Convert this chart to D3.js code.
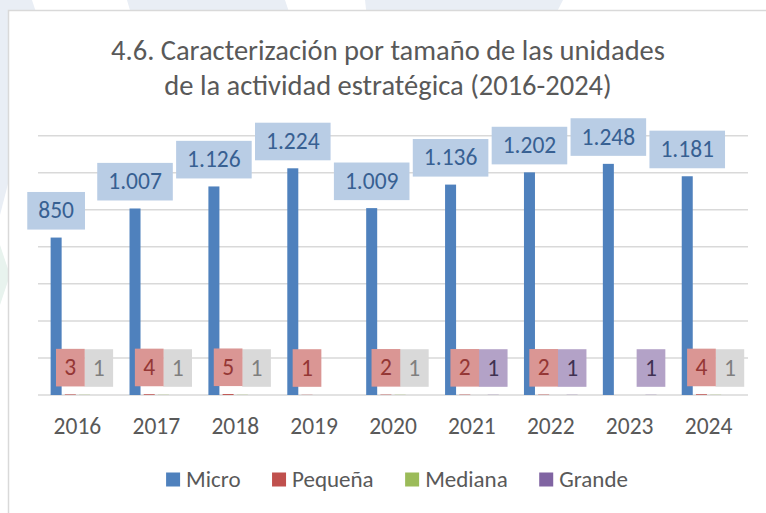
<!DOCTYPE html>
<html>
<head>
<meta charset="utf-8">
<script src="https://cdn.jsdelivr.net/npm/d3@7"></script>
<style>
  body { margin: 0; background: #fff; }
  svg { display: block; font-family: Carlito, Calibri, "Open Sans", sans-serif; }
</style>
</head>
<body>
<svg class="chart"></svg>
<script>
// data
var years = ["2016", "2017", "2018", "2019", "2020", "2021", "2022", "2023", "2024"];
var series = ["Micro", "Pequeña", "Mediana", "Grande"];
var micro = [850, 1007, 1126, 1224, 1009, 1136, 1202, 1248, 1181];
var pequena = [3, 4, 5, 1, 2, 2, 2, 0, 4];
var mediana = [1, 1, 1, 0, 1, 0, 0, 0, 1];
var grande = [0, 0, 0, 0, 0, 1, 1, 1, 0];
var gridTicks = [0, 200, 400, 600, 800, 1000, 1200, 1400];
var titleLines = ["4.6. Caracterización por tamaño de las unidades", "de la actividad estratégica (2016-2024)"];

var colors = { "Micro": "#4f81bd", "Pequeña": "#c0504d", "Mediana": "#9bbb59", "Grande": "#8064a2" };
var labelFill = { "Micro": "#b9cde5", "Pequeña": "#da9694", "Mediana": "#d9d9d9", "Grande": "#b3a2c7" };
var labelText = { "Micro": "#376092", "Pequeña": "#953735", "Mediana": "#7f7f7f", "Grande": "#403152" };

var W = 766, H = 513;
var svg = d3.select(".chart").attr("width", W).attr("height", H);

// faint background shapes behind the card
var bg = svg.append("g").attr("fill", "#e9eef5");
bg.append("polygon").attr("points", "0,0 32,0 45,40 0,215");
bg.append("polygon").attr("points", "127,0 285,0 300,45 140,45");
bg.append("polygon").attr("points", "365,0 563,0 540,45 370,45");
svg.append("polygon").attr("points", "0,245 10,275 0,305").attr("fill", "#e8f3ee");

// card
svg.append("rect")
  .attr("x", 8.5).attr("y", 10.5)
  .attr("width", W).attr("height", H)
  .attr("fill", "#fff")
  .attr("stroke", "#d9d9d9")
  .attr("stroke-width", 1.5);

// title
svg.append("g").selectAll("text")
  .data(titleLines)
  .enter().append("text")
  .attr("x", 388)
  .attr("y", function(d, i) { return 59.5 + i * 35.7; })
  .attr("text-anchor", "middle")
  .attr("fill", "#595959")
  .style("font-size", "28.5px")
  .text(function(d) { return d; });

// scales
var x0 = d3.scaleBand()
  .domain(years)
  .range([38, 748])
  .paddingInner(0.32)
  .paddingOuter(0.16);

var x1 = d3.scaleBand()
  .domain(series)
  .range([0, x0.bandwidth()])
  .paddingInner(0.225);

var y = d3.scaleLinear()
  .domain([0, 1400])
  .range([395, 135.7]);

// gridlines
svg.append("g").selectAll("line")
  .data(gridTicks)
  .enter().append("line")
  .attr("x1", 38).attr("x2", 748)
  .attr("y1", function(d) { return y(d); })
  .attr("y2", function(d) { return y(d); })
  .attr("stroke", "#d9d9d9")
  .attr("stroke-width", 1.5);

// x axis labels
var xAxis = d3.axisBottom(x0).tickSize(0).tickPadding(0);
var gx = svg.append("g")
  .attr("transform", "translate(0," + 395 + ")")
  .call(xAxis);
gx.select(".domain").remove();
gx.selectAll("text")
  .attr("dy", null)
  .attr("y", 39)
  .attr("fill", "#595959")
  .style("font-size", "23.5px")
  .style("font-family", "Carlito, Calibri, 'Open Sans', sans-serif");

// build rows
var rows = years.map(function(yr, i) {
  return { year: yr, values: { "Micro": micro[i], "Pequeña": pequena[i], "Mediana": mediana[i], "Grande": grande[i] } };
});

// bars
var groups = svg.append("g").selectAll("g")
  .data(rows)
  .enter().append("g")
  .attr("transform", function(d) { return "translate(" + x0(d.year) + ",0)"; });

groups.selectAll("rect")
  .data(function(d) { return series.map(function(s) { return { key: s, value: d.values[s] }; }); })
  .enter().append("rect")
  .attr("x", function(d) { return x1(d.key); })
  .attr("y", function(d) { return y(d.value); })
  .attr("width", x1.bandwidth())
  .attr("height", function(d) { return y(0) - y(d.value); })
  .attr("fill", function(d) { return colors[d.key]; });

// data labels
var fmt = function(v) { return d3.format(",")(v).replace(/,/g, "."); };
var labelOrder = ["Micro", "Mediana", "Grande", "Pequeña"];
var boxH = 37.6;

groups.each(function(row) {
  var g = d3.select(this);
  labelOrder.forEach(function(s) {
    var v = row.values[s];
    if (!v) return;
    // the gray Mediana labels sit one slot to the right in the original
    var slot = s === "Mediana" ? x1("Grande") : x1(s);
    var cx = slot + x1.bandwidth() / 2;
    var bottom = y(v) - 8;
    var lg = g.append("g");
    var t = lg.append("text")
      .attr("x", cx)
      .attr("y", bottom - boxH / 2 + 7.6)
      .attr("text-anchor", "middle")
      .attr("fill", labelText[s])
      .style("font-size", "23.5px")
      .text(fmt(v));
    var tw = t.node().getComputedTextLength();
    var bw = s === "Micro" ? tw + 22 : 28.7;
    lg.insert("rect", "text")
      .attr("x", cx - bw / 2)
      .attr("y", bottom - boxH)
      .attr("width", bw)
      .attr("height", boxH)
      .attr("fill", labelFill[s]);
  });
});

// legend
var legend = svg.append("g").attr("transform", "translate(0,487)");
var items = legend.selectAll("g")
  .data(series)
  .enter().append("g");
items.append("rect")
  .attr("y", -14.5)
  .attr("width", 14)
  .attr("height", 14)
  .attr("fill", function(d) { return colors[d]; });
items.append("text")
  .attr("x", 20)
  .attr("fill", "#595959")
  .style("font-size", "23px")
  .text(function(d) { return d; });

var widths = [];
items.each(function() { widths.push(this.getBBox().width); });
var gap = 31.5;
var total = d3.sum(widths) + gap * (widths.length - 1);
var pos = 397 - total / 2;
items.attr("transform", function(d, i) {
  var p = pos;
  pos += widths[i] + gap;
  return "translate(" + p + ",0)";
});
</script>
</body>
</html>
